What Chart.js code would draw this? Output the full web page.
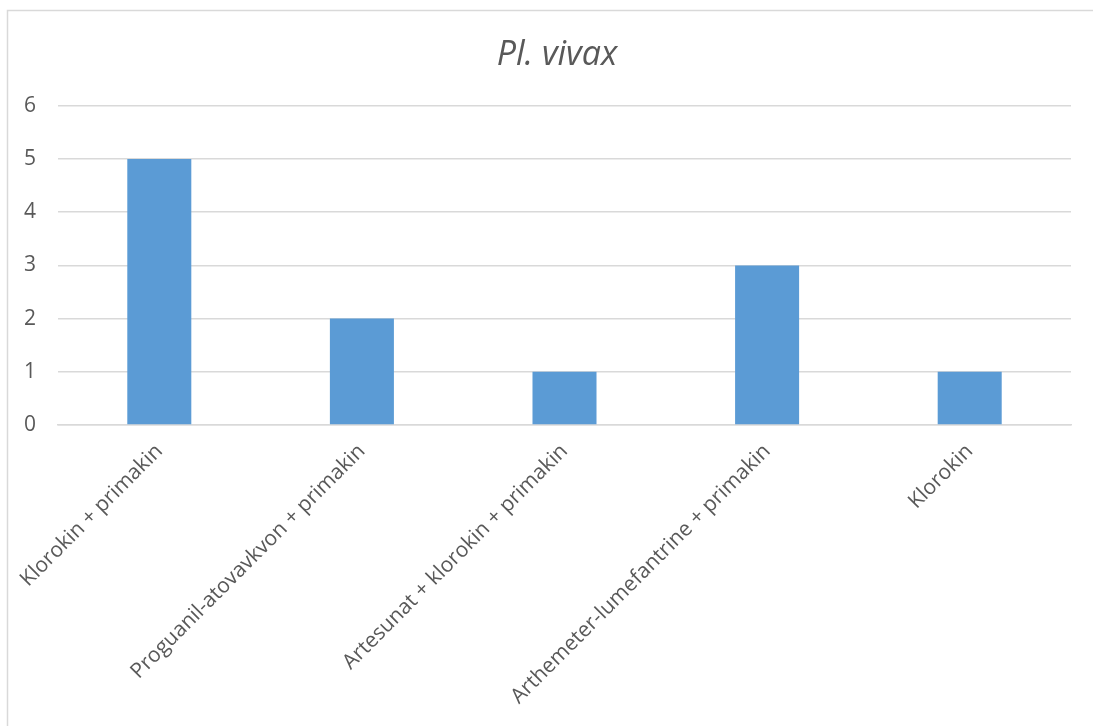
<!DOCTYPE html>
<html>
<head>
<meta charset="utf-8">
<script src="https://cdn.jsdelivr.net/npm/chart.js@4/dist/chart.umd.min.js"></script>
<style>
  html, body { margin: 0; padding: 0; background: #ffffff; overflow: hidden; }
  #wrap { width: 1093px; height: 726px; position: relative; overflow: hidden; }
  #c { display: block; }
</style>
</head>
<body>
<div id="wrap"><canvas id="c" width="1093" height="726"></canvas></div>
<script>
// Treatment regimens and number of cases
const categories = [
  'Klorokin + primakin',
  'Proguanil-atovavkvon + primakin',
  'Artesunat + klorokin + primakin',
  'Arthemeter-lumefantrine + primakin',
  'Klorokin'
];
const cases = [5, 2, 1, 3, 1];
const chartTitle = 'Pl. vivax';
const yMin = 0, yMax = 6, yStep = 1;

const textColor = '#595959';
const gridColor = '#d9d9d9';
const barColor = '#5b9bd5';
const fontFamily = '"Open Sans", "Noto Sans", sans-serif';

// Frame of the chart object: only its top and left edges fall inside the canvas
const framePlugin = {
  id: 'frame',
  beforeDraw(chart) {
    const ctx = chart.ctx;
    ctx.save();
    ctx.fillStyle = '#ffffff';
    ctx.fillRect(0, 0, chart.width, chart.height);
    ctx.strokeStyle = '#d9d9d9';
    ctx.lineWidth = 1.5;
    ctx.beginPath();
    ctx.moveTo(7.5, chart.height);
    ctx.lineTo(7.5, 10.5);
    ctx.lineTo(chart.width, 10.5);
    ctx.stroke();
    ctx.restore();
  }
};

new Chart(document.getElementById('c'), {
  type: 'bar',
  data: {
    labels: categories,
    datasets: [{
      data: cases,
      backgroundColor: barColor,
      borderWidth: 0,
      categoryPercentage: 1,
      barPercentage: 0.316
    }]
  },
  options: {
    responsive: false,
    animation: false,
    devicePixelRatio: 1,
    layout: { padding: { top: 0, left: 21, right: 0, bottom: 0 } },
    plugins: {
      legend: { display: false },
      tooltip: { enabled: false },
      title: {
        display: true,
        text: chartTitle,
        color: textColor,
        font: { family: fontFamily, size: 34, style: 'italic', weight: 'normal', lineHeight: 1.2 },
        padding: { top: 35, bottom: 30 }
      }
    },
    scales: {
      x: {
        grid: { display: false, drawTicks: false },
        border: { display: true, color: gridColor, width: 1.5 },
        ticks: {
          color: textColor,
          font: { family: fontFamily, size: 21 },
          minRotation: 45,
          maxRotation: 45,
          autoSkip: false,
          padding: 14
        },
        afterFit(scale) {
          scale.height = 301;
          scale.paddingLeft = 0;
          scale.paddingRight = 22;
        }
      },
      y: {
        min: yMin,
        max: yMax,
        grid: { color: gridColor, lineWidth: 1.5, drawTicks: false },
        border: { display: false },
        ticks: {
          stepSize: yStep,
          color: textColor,
          font: { family: fontFamily, size: 21 },
          padding: 22
        },
        afterFit(scale) {
          scale.width = 37;
          scale.paddingTop = 0;
          scale.paddingBottom = 0;
        }
      }
    }
  },
  plugins: [framePlugin]
});
</script>
</body>
</html>
